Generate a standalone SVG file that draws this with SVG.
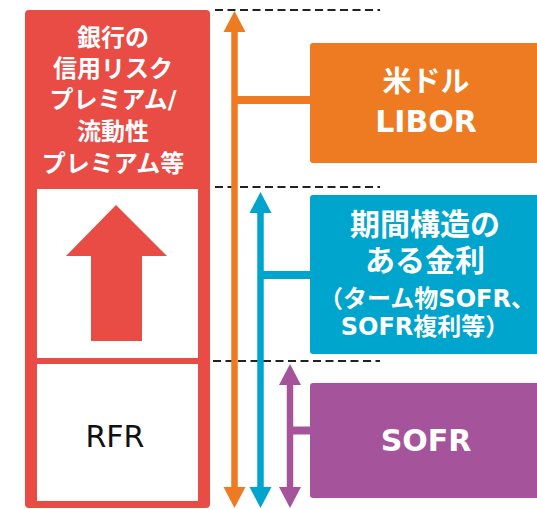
<svg xmlns="http://www.w3.org/2000/svg" width="537" height="509" viewBox="0 0 537 509">
<style>
.w{fill:#fff;font-family:"DejaVu Sans","Noto Sans CJK JP",sans-serif;font-weight:bold;text-anchor:middle;dominant-baseline:central}
.dash{stroke:#222;stroke-width:2;stroke-dasharray:8 4.5;fill:none}
.box{rx:3}
</style>
<defs>
<marker id="ho" markerUnits="userSpaceOnUse" markerWidth="22" markerHeight="24" refX="0" refY="11" orient="auto-start-reverse" viewBox="0 0 22 22"><path d="M0,0 L21,11 L0,22 z" fill="#EE7A22"/></marker>
<marker id="hb" markerUnits="userSpaceOnUse" markerWidth="22" markerHeight="24" refX="0" refY="11" orient="auto-start-reverse" viewBox="0 0 22 22"><path d="M0,0 L21,11 L0,22 z" fill="#00A5CD"/></marker>
<marker id="hp" markerUnits="userSpaceOnUse" markerWidth="22" markerHeight="24" refX="0" refY="11" orient="auto-start-reverse" viewBox="0 0 22 22"><path d="M0,0 L21,11 L0,22 z" fill="#A5549B"/></marker>
</defs>
<rect width="537" height="509" fill="#fff"/>

<g id="left-stack">
<rect x="25" y="10" width="185" height="498" rx="4" fill="#E94B45"/>
<rect x="37" y="189" width="161" height="169" fill="#fff"/>
<rect x="37" y="364" width="161" height="137" fill="#fff"/>
<text class="w" style="font-size:24px" x="113"><tspan x="113" y="38">銀行の</tspan><tspan x="113" y="69">信用リスク</tspan><tspan x="113" y="100">プレミアム/</tspan><tspan x="113" y="132">流動性</tspan><tspan x="113" y="164">プレミアム等</tspan></text>
<path d="M116,205 L167,256 L142,256 L142,341 L91,341 L91,256 L66,256 z" fill="#E94B45"/>
<text x="115" y="436" style="font-family:'DejaVu Sans',sans-serif;font-size:30px;fill:#111;text-anchor:middle;dominant-baseline:central">RFR</text>
</g>

<g id="dashed-levels">
<line class="dash" x1="215" y1="10" x2="380" y2="10"/>
<line class="dash" x1="215" y1="187" x2="380" y2="187"/>
<line class="dash" x1="213" y1="361" x2="380" y2="361"/>
</g>

<g id="connectors">
<line x1="234.5" y1="32" x2="234.5" y2="487" stroke="#EE7A22" stroke-width="6.5" marker-start="url(#ho)" marker-end="url(#ho)"/>
<line x1="234.5" y1="100" x2="311" y2="100" stroke="#EE7A22" stroke-width="8"/>
<line x1="260.5" y1="213" x2="260.5" y2="487" stroke="#00A5CD" stroke-width="6.5" marker-start="url(#hb)" marker-end="url(#hb)"/>
<line x1="260.5" y1="275" x2="311" y2="275" stroke="#00A5CD" stroke-width="8"/>
<line x1="290" y1="385" x2="290" y2="487" stroke="#A5549B" stroke-width="6.5" marker-start="url(#hp)" marker-end="url(#hp)"/>
<line x1="290" y1="430.5" x2="311" y2="430.5" stroke="#A5549B" stroke-width="8"/>
</g>

<g id="libor">
<rect x="310" y="43" width="240" height="120" rx="3" fill="#EE7A22"/>
<text class="w" x="426" y="82" style="font-size:29px">米ドル</text>
<text class="w" x="426" y="121" style="font-size:30px">LIBOR</text>
</g>

<g id="term">
<rect x="310" y="195" width="240" height="159" rx="3" fill="#00A5CD"/>
<text class="w" x="425" y="224" style="font-size:30px">期間構造の</text>
<text class="w" x="425" y="260" style="font-size:30px">ある金利</text>
<text class="w" x="427" y="299" style="font-size:24px">（ターム物SOFR、</text>
<text class="w" x="425" y="327" style="font-size:24px">SOFR複利等）</text>
</g>

<g id="sofr">
<rect x="310" y="383" width="240" height="115" rx="3" fill="#A5549B"/>
<text class="w" x="426" y="440" style="font-size:30px">SOFR</text>
</g>
</svg>
